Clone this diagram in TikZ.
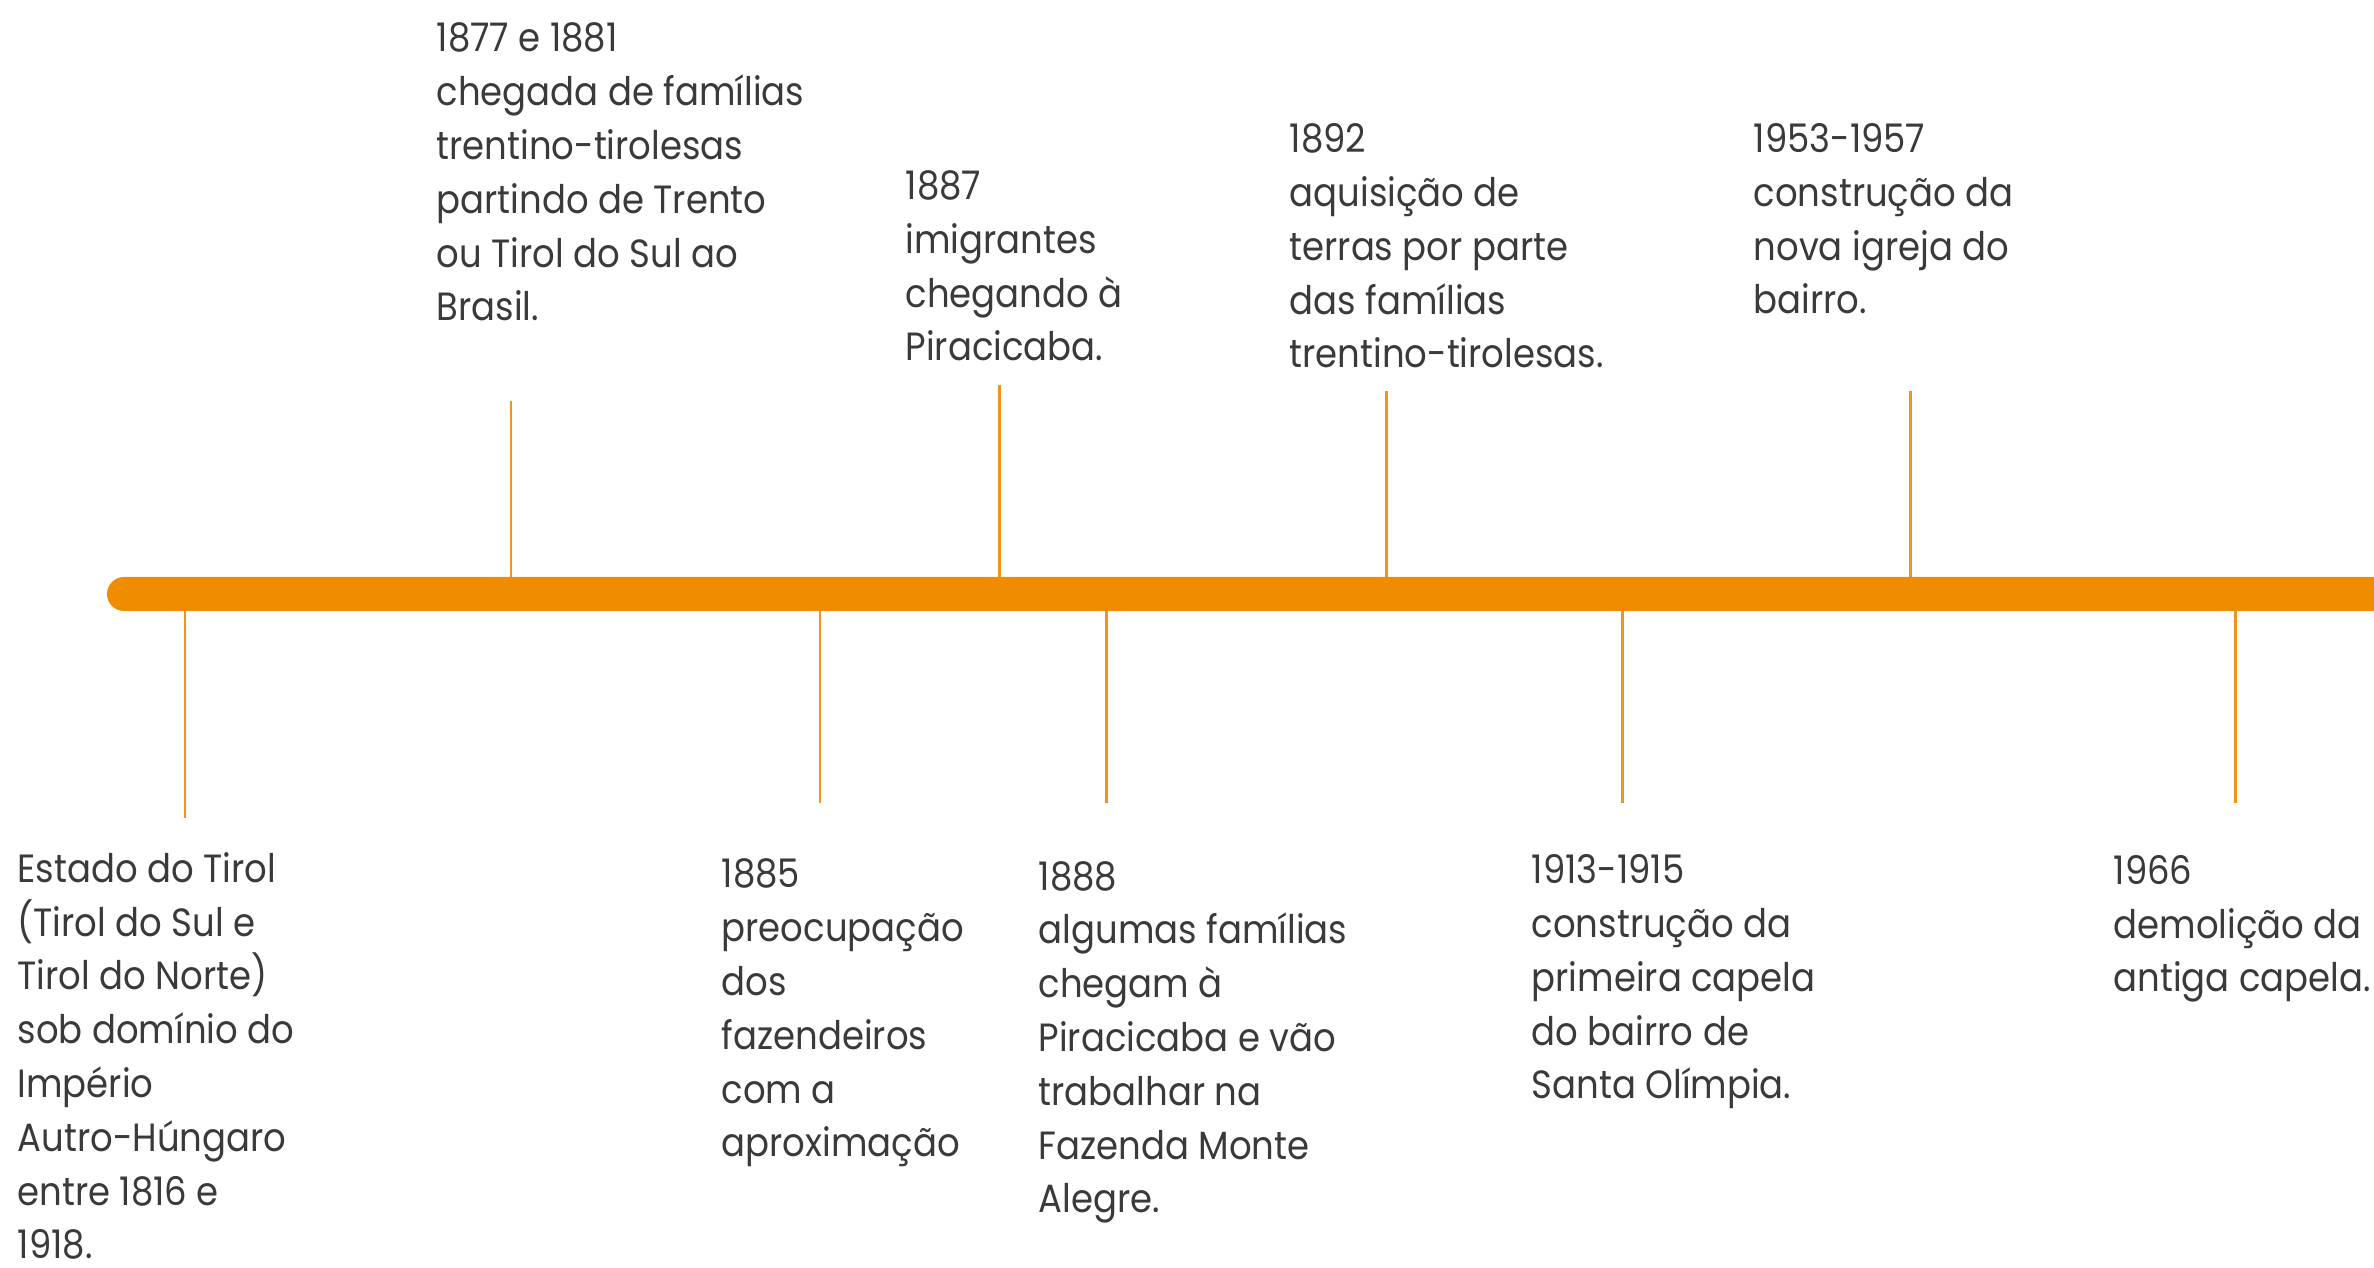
\documentclass[tikz,border=0pt]{standalone}
\usepackage{fontspec}
\setmainfont[FakeStretch=0.9]{Poppins}
\definecolor{barcol}{HTML}{F08C00}
\definecolor{tickcol}{HTML}{F29418}
\definecolor{txtcol}{HTML}{3A3A3A}
\begin{document}
\begin{tikzpicture}[x=0.01cm,y=-0.01cm,
  evtext/.style={anchor=base west, align=left, inner sep=0pt, text=txtcol,
    font=\fontsize{11.2pt}{15.3pt}\selectfont},
  tickline/.style={draw=tickcol, line width=0.85pt}]
\useasboundingbox (0,0) rectangle (2374,1268);
% bar anchor coordinates
\coordinate (b1) at (511,594);
\coordinate (b2) at (999,594);
\coordinate (b3) at (1386,594);
\coordinate (b4) at (1910,594);
\coordinate (b5) at (185,594);
\coordinate (b6) at (820,594);
\coordinate (b7) at (1106,594);
\coordinate (b8) at (1622,594);
\coordinate (b9) at (2235,594);
% tick ends
\coordinate (e1) at (511,401);
\coordinate (e2) at (999,385);
\coordinate (e3) at (1386,391);
\coordinate (e4) at (1910,391);
\coordinate (e5) at (185,818);
\coordinate (e6) at (820,803);
\coordinate (e7) at (1106,803);
\coordinate (e8) at (1622,803);
\coordinate (e9) at (2235,803);
\foreach \i in {1,...,9} {\draw[tickline] (b\i) -- (e\i);}
% timeline bar
\fill[barcol, rounded corners=0.17cm] (107,577) rectangle (2440,611);
% events (anchored at the baseline of the last line)
\node[evtext] (t1) at (436,321) {1877 e 1881\\chegada de famílias\\trentino-tirolesas\\partindo de Trento\\ou Tirol do Sul ao\\Brasil.};
\node[evtext] (t2) at (905,361) {1887\\imigrantes\\chegando à\\Piracicaba.};
\node[evtext] (t3) at (1289,368) {1892\\aquisição de\\terras por parte\\das famílias\\trentino-tirolesas.};
\node[evtext] (t4) at (1753,314) {1953-1957\\construção da\\nova igreja do\\bairro.};
\node[evtext] (t5) at (17,1259) {Estado do Tirol\\(Tirol do Sul e\\Tirol do Norte)\\sob domínio do\\Império\\Autro-Húngaro\\entre 1816 e\\1918.};
\node[evtext] (t6) at (721,1157) {1885\\preocupação\\dos\\fazendeiros\\com a\\aproximação};
\node[evtext] (t7) at (1038,1213) {1888\\algumas famílias\\chegam à\\Piracicaba e vão\\trabalhar na\\Fazenda Monte\\Alegre.};
\node[evtext] (t8) at (1531,1099) {1913-1915\\construção da\\primeira capela\\do bairro de\\Santa Olímpia.};
\node[evtext] (t9) at (2113,992) {1966\\demolição da\\antiga capela.};
\end{tikzpicture}
\end{document}
